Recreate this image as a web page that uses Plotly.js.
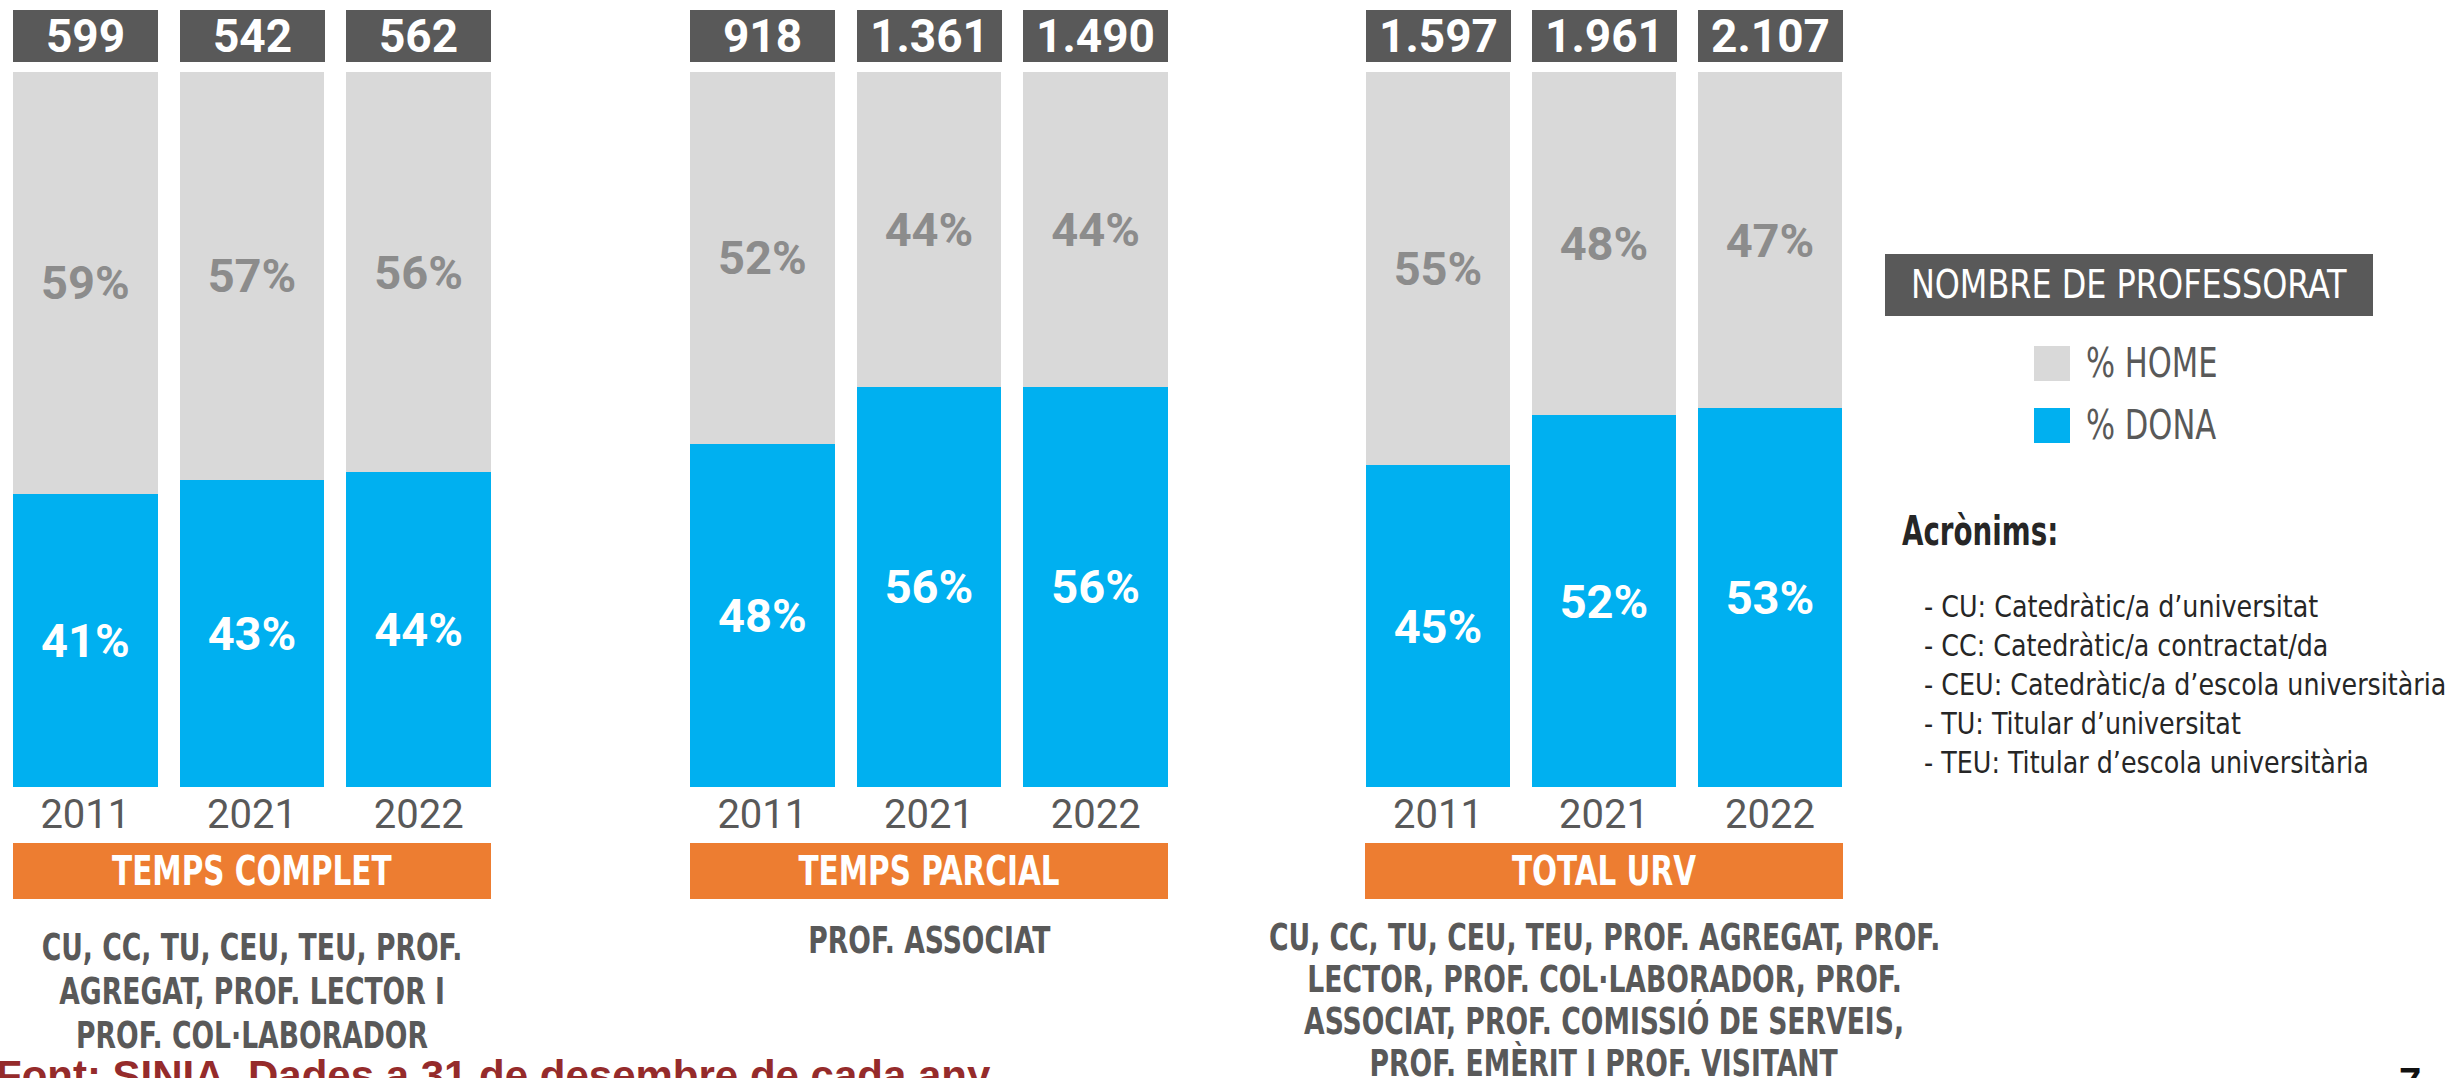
<!DOCTYPE html>
<html>
<head>
<meta charset="utf-8">
<script src="https://cdn.plot.ly/plotly-3.0.1.min.js"></script>
<style>
html, body { margin: 0; padding: 0; background: #fff; }
#chart { width: 2446px; height: 1078px; }
</style>
</head>
<body>
<div id="chart"></div>
<script>
// dades: % professorat per sexe, URV
var years = ['2011', '2021', '2022'];
var groups = ['TEMPS COMPLET', 'TEMPS PARCIAL', 'TOTAL URV'];

var homeComplet = [59, 57, 56];
var donaComplet = [41, 43, 44];
var totalComplet = ['599', '542', '562'];

var homeParcial = [52, 44, 44];
var donaParcial = [48, 56, 56];
var totalParcial = ['918', '1.361', '1.490'];

var homeTotal = [55, 48, 47];
var donaTotal = [45, 52, 53];
var totalTotal = ['1.597', '1.961', '2.107'];

var descComplet = ['CU, CC, TU, CEU, TEU, PROF.', 'AGREGAT, PROF. LECTOR I', 'PROF. COL·LABORADOR'];
var descParcial = ['PROF. ASSOCIAT'];
var descTotal = ['CU, CC, TU, CEU, TEU, PROF. AGREGAT, PROF.', 'LECTOR, PROF. COL·LABORADOR, PROF.',
  'ASSOCIAT, PROF. COMISSIÓ DE SERVEIS,', 'PROF. EMÈRIT I PROF. VISITANT'];

var acronims = ['- CU: Catedràtic/a d\u2019universitat', '- CC: Catedràtic/a contractat/da',
  '- CEU: Catedràtic/a d\u2019escola universitària', '- TU: Titular d\u2019universitat',
  '- TEU: Titular d\u2019escola universitària'];

var W = 2446, H = 1078;
function px(x) { return x / W; }
function py(y) { return 1 - y / H; }

var narrow = 'DejaVu Sans Condensed, DejaVu Sans, sans-serif';
var roboto = 'Roboto, sans-serif';
var blue = '#00B0F0', grey = '#D9D9D9', dark = '#595959', orange = '#ED7D31';

var homes = [homeComplet, homeParcial, homeTotal];
var donas = [donaComplet, donaParcial, donaTotal];
var totals = [totalComplet, totalParcial, totalTotal];
var descs = [descComplet, descParcial, descTotal];
var xaxes = ['x', 'x2', 'x3'];
var panelCenter = [252, 929, 1604];
var descTop = [947, 940, 937];
var descStep = [44, 44, 42];

var data = [];
var annotations = [];
var squeeze = [];   // estrenyer el text condensat: [escala, origen]
function note(a, sq) {
  a.showarrow = false;
  annotations.push(a);
  squeeze.push(sq || null);
}

var yTop = py(72);

for (var i = 0; i < 3; i++) {
  data.push({
    x: years, y: donas[i], xaxis: xaxes[i], yaxis: 'y', type: 'bar', name: '% DONA',
    marker: {color: blue}, texttemplate: '%{y}%', textposition: 'inside',
    insidetextanchor: 'middle', textangle: 0,
    textfont: {family: roboto, size: 47, color: '#ffffff', weight: 'bold'}
  });
  data.push({
    x: years, y: homes[i], xaxis: xaxes[i], yaxis: 'y', type: 'bar', name: '% HOME',
    marker: {color: grey}, texttemplate: '%{y}%', textposition: 'inside',
    insidetextanchor: 'middle', textangle: 0,
    textfont: {family: roboto, size: 47, color: '#8C8C8C', weight: 'bold'}
  });

  // caixes amb el total
  for (var j = 0; j < years.length; j++) {
    note({
      xref: xaxes[i], yref: 'paper', x: j, y: yTop, xanchor: 'center', yanchor: 'bottom', yshift: 10,
      text: totals[i][j], width: 145, height: 52,
      bgcolor: dark, borderpad: 0, borderwidth: 0,
      font: {family: roboto, size: 46, color: '#ffffff', weight: 'bold'}
    });
  }

  // etiqueta taronja
  note({
    xref: 'paper', yref: 'paper', x: px(panelCenter[i]), y: py(871), xanchor: 'center', yanchor: 'middle',
    text: groups[i], width: 478, height: 56,
    bgcolor: orange, borderpad: 0, borderwidth: 0,
    font: {family: narrow, size: 40, color: '#ffffff', weight: 'bold'}
  }, [0.82, 'center']);

  for (var k = 0; k < descs[i].length; k++) {
    note({
      xref: 'paper', yref: 'paper', x: px(panelCenter[i]), y: py(descTop[i] + k * descStep[i]),
      xanchor: 'center', yanchor: 'middle', text: descs[i][k],
      font: {family: narrow, size: 37, color: dark, weight: 'bold'}
    }, [0.8, 'center']);
  }
}

// llegenda
note({
  xref: 'paper', yref: 'paper', x: px(2129), y: py(285), xanchor: 'center', yanchor: 'middle',
  text: 'NOMBRE DE PROFESSORAT', width: 488, height: 62,
  bgcolor: dark, borderpad: 0, borderwidth: 0,
  font: {family: narrow, size: 39, color: '#ffffff'}
}, [0.91, 'center']);
note({
  xref: 'paper', yref: 'paper', x: px(2084), y: py(363), xanchor: 'left', yanchor: 'middle',
  text: '% HOME', font: {family: narrow, size: 40, color: dark}
}, [0.85, 'left center']);
note({
  xref: 'paper', yref: 'paper', x: px(2084), y: py(425), xanchor: 'left', yanchor: 'middle',
  text: '% DONA', font: {family: narrow, size: 40, color: dark}
}, [0.85, 'left center']);
note({
  xref: 'paper', yref: 'paper', x: px(1900), y: py(531), xanchor: 'left', yanchor: 'middle',
  text: 'Acrònims:', font: {family: narrow, size: 40, color: '#262626', weight: 'bold'}
}, [0.77, 'left center']);
for (var a = 0; a < acronims.length; a++) {
  note({
    xref: 'paper', yref: 'paper', x: px(1922), y: py(606 + a * 39), xanchor: 'left', yanchor: 'middle',
    text: acronims[a], font: {family: narrow, size: 31, color: '#262626'}
  }, [0.91, 'left center']);
}

// font i número de pàgina
note({
  xref: 'paper', yref: 'paper', x: px(-6), y: py(1050), xanchor: 'left', yanchor: 'top',
  text: 'Font: SINIA. Dades a 31 de desembre de cada any',
  font: {family: 'Liberation Sans, Arial, sans-serif', size: 42, color: '#952B2B', weight: 'bold'}
});
note({
  xref: 'paper', yref: 'paper', x: px(2410), y: py(1058), xanchor: 'center', yanchor: 'top',
  text: '7', font: {family: 'Liberation Sans, Arial, sans-serif', size: 40, color: '#111111', weight: 'bold'}
});

var shapes = [
  {type: 'rect', xref: 'paper', yref: 'paper', x0: px(2034), x1: px(2070), y0: py(346), y1: py(381),
    fillcolor: grey, line: {width: 0}},
  {type: 'rect', xref: 'paper', yref: 'paper', x0: px(2034), x1: px(2070), y0: py(408), y1: py(443),
    fillcolor: blue, line: {width: 0}}
];

var xbase = {
  type: 'category', range: [-0.5, 2.5], autorange: false,
  showgrid: false, zeroline: false, showline: false, ticks: '',
  tickfont: {family: roboto, size: 40, color: dark}, anchor: 'y', fixedrange: true
};

var layout = {
  width: W, height: H,
  margin: {l: 0, r: 0, t: 0, b: 0},
  paper_bgcolor: '#ffffff', plot_bgcolor: '#ffffff',
  barmode: 'stack', bargap: 0.132, showlegend: false,
  xaxis: Object.assign({}, xbase, {domain: [px(2), px(502)]}),
  xaxis2: Object.assign({}, xbase, {domain: [px(679), px(1179)]}),
  xaxis3: Object.assign({}, xbase, {domain: [px(1355), px(1853)]}),
  yaxis: {domain: [py(787), yTop], range: [0, 100], visible: false, fixedrange: true},
  annotations: annotations,
  shapes: shapes
};

Plotly.newPlot('chart', data, layout, {displayModeBar: false, staticPlot: true}).then(function (gd) {
  gd.querySelectorAll('g.annotation').forEach(function (g) {
    var sq = squeeze[+g.getAttribute('data-index')];
    var t = g.querySelector('text.annotation-text');
    if (!sq || !t) return;
    t.style.transformBox = 'fill-box';
    t.style.transformOrigin = sq[1];
    t.style.transform = 'scaleX(' + sq[0] + ')';
  });
});
</script>
</body>
</html>
